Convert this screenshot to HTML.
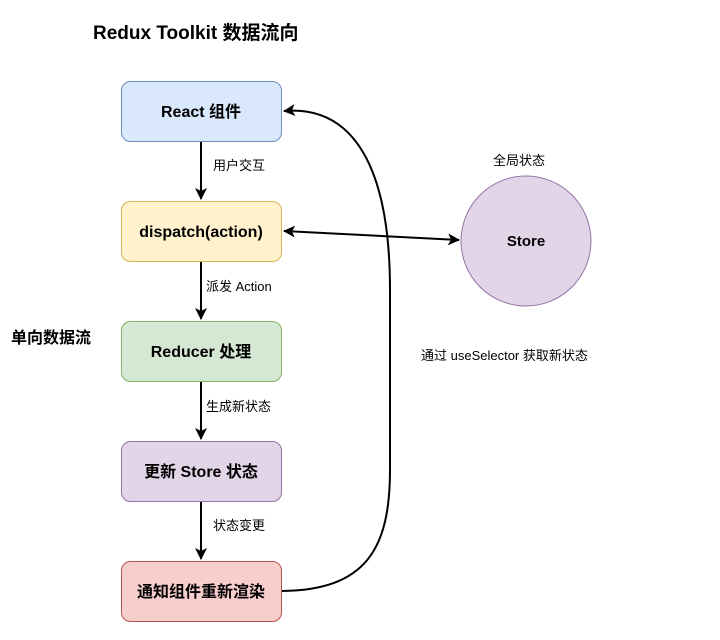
<!DOCTYPE html>
<html><head><meta charset="utf-8"><style>body{margin:0;background:#fff}svg{display:block}text{font-family:"Liberation Sans","Noto Sans CJK SC",sans-serif}</style></head>
<body>
<svg width="720" height="640" viewBox="0 0 720 640" xmlns="http://www.w3.org/2000/svg">
<defs><marker id="a" markerWidth="14" markerHeight="14" refX="11" refY="6" orient="auto" markerUnits="userSpaceOnUse"><path d="M0,0 L12,6 L0,12 L3,6 Z" fill="#000"/></marker>
<marker id="b" markerWidth="14" markerHeight="14" refX="1" refY="6" orient="auto" markerUnits="userSpaceOnUse"><path d="M12,0 L0,6 L12,12 L9,6 Z" fill="#000"/></marker></defs>
<text x="93" y="39" font-size="19" font-weight="bold">Redux Toolkit 数据流向</text>
<text x="11" y="343" font-size="16" font-weight="bold">单向数据流</text>
<rect x="121.5" y="81.5" width="160" height="60" rx="9" fill="#dae8fc" stroke="#6c8ebf"/>
<text x="201" y="117" font-size="16" font-weight="bold" text-anchor="middle">React 组件</text>
<rect x="121.5" y="201.5" width="160" height="60" rx="9" fill="#fff2cc" stroke="#d6b656"/>
<text x="201" y="237" font-size="16" font-weight="bold" text-anchor="middle">dispatch(action)</text>
<rect x="121.5" y="321.5" width="160" height="60" rx="9" fill="#d5e8d4" stroke="#82b366"/>
<text x="201" y="357" font-size="16" font-weight="bold" text-anchor="middle">Reducer 处理</text>
<rect x="121.5" y="441.5" width="160" height="60" rx="9" fill="#e1d5e7" stroke="#9673a6"/>
<text x="201" y="477" font-size="16" font-weight="bold" text-anchor="middle">更新 Store 状态</text>
<rect x="121.5" y="561.5" width="160" height="60" rx="9" fill="#f8cecc" stroke="#b85450"/>
<text x="201" y="597" font-size="16" font-weight="bold" text-anchor="middle">通知组件重新渲染</text>
<g stroke="#000" stroke-width="2" fill="none">
<line x1="201" y1="142" x2="201" y2="199" marker-end="url(#a)"/>
<line x1="201" y1="262" x2="201" y2="319" marker-end="url(#a)"/>
<line x1="201" y1="382" x2="201" y2="439" marker-end="url(#a)"/>
<line x1="201" y1="502" x2="201" y2="559" marker-end="url(#a)"/>
<line x1="284" y1="231" x2="459" y2="240" marker-start="url(#b)" marker-end="url(#a)"/>
<path d="M282,591 C365,590 390,550 390,470 L390,290 C390,170 355,105 284,111" marker-end="url(#a)"/>
</g>
<g font-size="13">
<text x="213" y="170">用户交互</text>
<text x="206" y="291">派发 Action</text>
<text x="206" y="411">生成新状态</text>
<text x="213" y="530">状态变更</text>
<text x="493" y="165">全局状态</text>
<text x="421" y="360">通过 useSelector 获取新状态</text>
</g>
<circle cx="526" cy="241" r="65" fill="#e1d5e7" stroke="#9673a6"/>
<text x="526" y="246" font-size="15" font-weight="bold" text-anchor="middle">Store</text>
</svg>
</body></html>
